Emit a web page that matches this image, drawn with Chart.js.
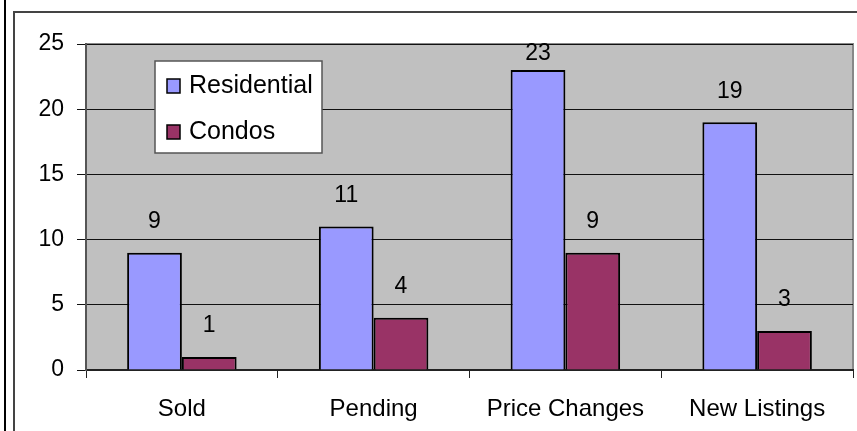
<!DOCTYPE html>
<html>
<head>
<meta charset="utf-8">
<script src="https://cdn.jsdelivr.net/npm/chart.js@4"></script>
<style>
    html, body { margin: 0; padding: 0; background: #fff; }
    canvas { display: block; }
</style>
</head>
<body>
<canvas id="salesChart" width="857" height="431"></canvas>
<script>
// Chart data
const categories = ['Sold', 'Pending', 'Price Changes', 'New Listings'];
const residential = [9, 11, 23, 19];
const condos = [1, 4, 9, 3];
const yTicks = [0, 5, 10, 15, 20, 25];

const FONT = '"Liberation Sans", Arial, sans-serif';

// Frame, plot area fill and border
const framePlugin = {
    id: 'frame',
    beforeDraw(chart) {
        const { ctx, chartArea: a, width, height } = chart;
        ctx.save();
        ctx.fillStyle = '#fff';
        ctx.fillRect(0, 0, width, height);

        // outer black edge
        ctx.fillStyle = '#000';
        ctx.fillRect(4, 0, 2, height);

        // chart area border
        ctx.strokeStyle = '#444';
        ctx.lineWidth = 2;
        ctx.beginPath();
        ctx.moveTo(14, height);
        ctx.lineTo(14, 12);
        ctx.lineTo(width, 12);
        ctx.stroke();

        // plot area
        ctx.fillStyle = '#c0c0c0';
        ctx.fillRect(a.left, a.top, a.right - a.left, a.bottom - a.top);
        ctx.strokeStyle = '#888';
        ctx.lineWidth = 2;
        ctx.strokeRect(a.left, a.top, a.right - a.left, a.bottom - a.top);
        ctx.restore();
    }
};

// Value labels above each bar, kept inside the plot area
const valueLabels = {
    id: 'valueLabels',
    afterDatasetsDraw(chart) {
        const { ctx, chartArea } = chart;
        ctx.save();
        ctx.font = '23px ' + FONT;
        ctx.fillStyle = '#000';
        ctx.textAlign = 'center';
        ctx.textBaseline = 'middle';
        chart.data.datasets.forEach((ds, i) => {
            chart.getDatasetMeta(i).data.forEach((bar, j) => {
                const y = Math.max(bar.y - 31, chartArea.top + 10);
                ctx.fillText(String(ds.data[j]), bar.x, y);
            });
        });
        ctx.restore();
    }
};

// Legend box inside the plot area
const boxLegend = {
    id: 'boxLegend',
    afterDraw(chart) {
        const { ctx } = chart;
        const x = 155, y = 61, w = 167, h = 92;
        ctx.save();
        ctx.fillStyle = '#fff';
        ctx.fillRect(x, y, w, h);
        ctx.strokeStyle = '#555';
        ctx.lineWidth = 1.5;
        ctx.strokeRect(x, y, w, h);

        ctx.font = '25px ' + FONT;
        ctx.textBaseline = 'middle';
        ctx.textAlign = 'left';
        chart.data.datasets.forEach((ds, i) => {
            const cy = y + 25 + i * 46;
            ctx.fillStyle = ds.backgroundColor;
            ctx.fillRect(167, cy - 7, 13, 14);
            ctx.strokeStyle = '#000';
            ctx.lineWidth = 1.5;
            ctx.strokeRect(167, cy - 7, 13, 14);
            ctx.fillStyle = '#000';
            ctx.fillText(ds.label, 189, cy);
        });
        ctx.restore();
    }
};

const chart = new Chart(document.getElementById('salesChart'), {
    type: 'bar',
    data: {
        labels: categories,
        datasets: [
            {
                label: 'Residential',
                data: residential,
                backgroundColor: '#9999ff',
                borderColor: '#000',
                borderWidth: 2,
                categoryPercentage: 0.571,
                barPercentage: 1
            },
            {
                label: 'Condos',
                data: condos,
                backgroundColor: '#993366',
                borderColor: '#000',
                borderWidth: 2,
                categoryPercentage: 0.571,
                barPercentage: 1
            }
        ]
    },
    options: {
        responsive: false,
        animation: false,
        devicePixelRatio: 1,
        layout: {
            padding: { left: 0, top: 44, right: 4, bottom: 0 }
        },
        plugins: {
            legend: { display: false },
            tooltip: { enabled: false }
        },
        scales: {
            x: {
                afterFit(scale) { scale.height = 61; },
                grid: {
                    drawOnChartArea: false,
                    drawTicks: true,
                    tickLength: 8,
                    color: '#222',
                    lineWidth: 1
                },
                border: { color: '#222', width: 2 },
                ticks: {
                    color: '#000',
                    padding: 17,
                    font: { family: FONT, size: 24 }
                }
            },
            y: {
                min: 0,
                max: 25,
                afterFit(scale) { scale.width = 86; },
                afterBuildTicks(scale) {
                    scale.ticks = yTicks.map(v => ({ value: v }));
                },
                grid: {
                    color: '#111',
                    lineWidth: 1,
                    tickLength: 9
                },
                border: { color: '#555', width: 2 },
                ticks: {
                    color: '#000',
                    padding: 13,
                    font: { family: FONT, size: 23 }
                }
            }
        }
    },
    plugins: [framePlugin, valueLabels, boxLegend]
});
</script>
</body>
</html>
